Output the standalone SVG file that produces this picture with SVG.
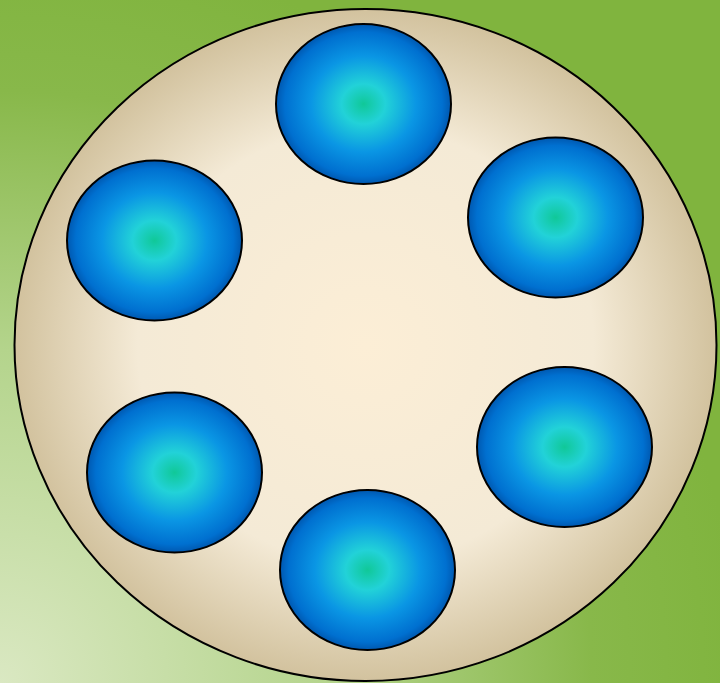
<svg xmlns="http://www.w3.org/2000/svg" width="720" height="683" viewBox="0 0 720 683">
<defs>
<radialGradient id="bg" gradientUnits="userSpaceOnUse" cx="0" cy="683" r="740">
<stop offset="0" stop-color="#DAE8C2"/>
<stop offset="0.45" stop-color="#B4D48C"/>
<stop offset="0.8" stop-color="#88B84A"/>
<stop offset="1" stop-color="#80B43E"/>
</radialGradient>
<radialGradient id="plate" cx="0.5" cy="0.5" r="0.5">
<stop offset="0" stop-color="#FCEED6"/>
<stop offset="0.65" stop-color="#F4EAD6"/>
<stop offset="1" stop-color="#D2C29E"/>
</radialGradient>
<radialGradient id="cell" cx="0.5" cy="0.5" r="0.5">
<stop offset="0" stop-color="#10C898"/>
<stop offset="0.25" stop-color="#22D2D8"/>
<stop offset="0.6" stop-color="#0A96E4"/>
<stop offset="0.9" stop-color="#0070D0"/>
<stop offset="1" stop-color="#0058B0"/>
</radialGradient>
<style>
.cell{fill:url(#cell);stroke:#000;stroke-width:2}
</style>
</defs>
<rect width="720" height="683" fill="url(#bg)"/>
<g id="plate-node">
<ellipse cx="365.5" cy="345" rx="351" ry="336" fill="url(#plate)" stroke="#000" stroke-width="2"/>
</g>
<g id="cell1"><ellipse class="cell" cx="363.5" cy="104" rx="87.5" ry="80"/></g>
<g id="cell2"><ellipse class="cell" cx="555.5" cy="217.5" rx="87.5" ry="80"/></g>
<g id="cell3"><ellipse class="cell" cx="154.5" cy="240.5" rx="87.5" ry="80"/></g>
<g id="cell4"><ellipse class="cell" cx="564.5" cy="447" rx="87.5" ry="80"/></g>
<g id="cell5"><ellipse class="cell" cx="174.5" cy="472.5" rx="87.5" ry="80"/></g>
<g id="cell6"><ellipse class="cell" cx="367.5" cy="570" rx="87.5" ry="80"/></g>
<g id="connectors"></g>
</svg>
